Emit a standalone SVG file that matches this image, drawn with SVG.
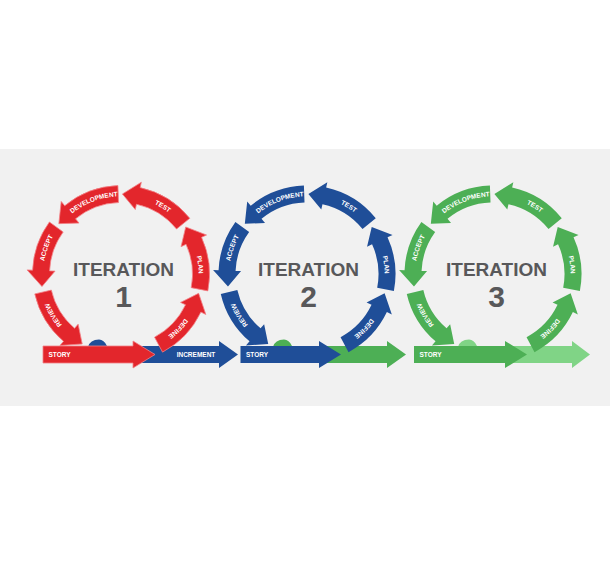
<svg xmlns="http://www.w3.org/2000/svg" xmlns:xlink="http://www.w3.org/1999/xlink" width="610" height="565" viewBox="0 0 610 565">
<style>
.red{fill:#e3262c;stroke:#f38186;stroke-width:0.8}
.blue{fill:#1f4e98}
.green{fill:#4daf55}
.lgreen{fill:#80d486}
.lbl{font-family:"Liberation Sans",Arial,sans-serif;font-weight:bold;font-size:6.5px;fill:#ffffff;stroke:none}
.title{font-family:"Liberation Sans",Arial,sans-serif;font-weight:bold;font-size:19px;fill:#58585a;text-anchor:middle;stroke:none}
.num{font-family:"Liberation Sans",Arial,sans-serif;font-weight:bold;font-size:30px;fill:#58585a;text-anchor:middle;stroke:none}
</style>
<defs>
<path id="a-define" d="M41.55,78.14 A88.5,88.5 0 0 0 79.88,38.10 L84.84,40.47 L77.62,19.35 L59.57,28.41 L64.54,30.78 A71.5,71.5 0 0 1 33.57,63.13 Z"/>
<path id="a-plan" d="M86.88,16.89 A88.5,88.5 0 0 0 80.54,-36.70 L85.54,-38.98 L64.72,-47.02 L60.06,-27.37 L65.07,-29.65 A71.5,71.5 0 0 1 70.19,13.64 Z"/>
<path id="a-test" d="M68.77,-55.69 A88.5,88.5 0 0 0 19.15,-86.40 L20.34,-91.77 L1.40,-79.99 L14.28,-64.44 L15.47,-69.81 A71.5,71.5 0 0 1 55.56,-45.00 Z"/>
<path id="a-dev" d="M-3.09,-88.45 A88.5,88.5 0 0 0 -56.29,-68.29 L-59.79,-72.53 L-62.17,-50.35 L-41.98,-50.93 L-45.48,-55.17 A71.5,71.5 0 0 1 -2.50,-71.46 Z"/>
<path id="a-accept" d="M-71.60,-52.02 A88.5,88.5 0 0 0 -88.42,-3.86 L-93.91,-4.10 L-79.02,12.51 L-65.94,-2.88 L-71.43,-3.12 A71.5,71.5 0 0 1 -57.84,-42.03 Z"/>
<path id="a-review" d="M-86.23,19.91 A88.5,88.5 0 0 0 -57.47,67.30 L-61.04,71.48 L-38.78,69.97 L-42.86,50.19 L-46.43,54.37 A71.5,71.5 0 0 1 -69.67,16.09 Z"/>
<path id="ring" d="M0,77.7 A77.7,77.7 0 1 1 0,-77.7 A77.7,77.7 0 1 1 0,77.7" fill="none"/>
</defs>
<rect x="0" y="0" width="610" height="565" fill="#ffffff"/>
<rect x="0" y="149" width="610" height="257" fill="#f1f1f1"/>

<g id="connectors">
<path class="blue" d="M88,347 Q90,339.5 99,339.5 Q104,339.5 107,346 L219,346 L219,341 L238,354.5 L219,368 L219,363 L88,363 Z"/>
<text class="lbl" x="196" y="357" text-anchor="middle">INCREMENT</text>
<path class="red" d="M43,346 L133,346 L133,341 L155,354.5 L133,368 L133,363 L43,363 Z"/>
<text class="lbl" x="48.5" y="357">STORY</text>
<path class="green" d="M273,347 Q275,339.5 284,339.5 Q289,339.5 292,346 L387,346 L387,341 L406,354.5 L387,368 L387,363 L273,363 Z"/>
<path class="blue" d="M240.5,346 L319,346 L319,341 L341,354.5 L319,368 L319,363 L240.5,363 Z"/>
<text class="lbl" x="246" y="357">STORY</text>
<path class="lgreen" d="M458,347 Q460,339.5 469,339.5 Q474,339.5 477,346 L572,346 L572,341 L590,354.5 L572,368 L572,363 L458,363 Z"/>
<path class="green" d="M414,346 L505,346 L505,341 L527,354.5 L505,368 L505,363 L414,363 Z"/>
<text class="lbl" x="419.5" y="357">STORY</text>
</g>

<g id="iteration1" transform="translate(121,274)">
<g id="it1-review" class="red"><use href="#a-review"/><text class="lbl" text-anchor="middle"><textPath href="#ring" startOffset="16.32%">REVIEW</textPath></text></g>
<g id="it1-accept" class="red"><use href="#a-accept"/><text class="lbl" text-anchor="middle"><textPath href="#ring" startOffset="30.35%">ACCEPT</textPath></text></g>
<g id="it1-development" class="red"><use href="#a-dev"/><text class="lbl" text-anchor="middle"><textPath href="#ring" startOffset="44.24%">DEVELOPMENT</textPath></text></g>
<g id="it1-test" class="red"><use href="#a-test"/><text class="lbl" text-anchor="middle"><textPath href="#ring" startOffset="58.82%">TEST</textPath></text></g>
<g id="it1-plan" class="red"><use href="#a-plan"/><text class="lbl" text-anchor="middle"><textPath href="#ring" startOffset="73.13%">PLAN</textPath></text></g>
<g id="it1-define" class="red"><use href="#a-define"/><text class="lbl" text-anchor="middle"><textPath href="#ring" startOffset="87.15%">DEFINE</textPath></text></g>
<text class="title" x="2.5" y="2">ITERATION</text>
<text class="num" x="2.5" y="33">1</text>
</g>

<g id="iteration2" transform="translate(307,274)">
<g id="it2-review" class="blue"><use href="#a-review"/><text class="lbl" text-anchor="middle"><textPath href="#ring" startOffset="16.32%">REVIEW</textPath></text></g>
<g id="it2-accept" class="blue"><use href="#a-accept"/><text class="lbl" text-anchor="middle"><textPath href="#ring" startOffset="30.35%">ACCEPT</textPath></text></g>
<g id="it2-development" class="blue"><use href="#a-dev"/><text class="lbl" text-anchor="middle"><textPath href="#ring" startOffset="44.24%">DEVELOPMENT</textPath></text></g>
<g id="it2-test" class="blue"><use href="#a-test"/><text class="lbl" text-anchor="middle"><textPath href="#ring" startOffset="58.82%">TEST</textPath></text></g>
<g id="it2-plan" class="blue"><use href="#a-plan"/><text class="lbl" text-anchor="middle"><textPath href="#ring" startOffset="73.13%">PLAN</textPath></text></g>
<g id="it2-define" class="blue"><use href="#a-define"/><text class="lbl" text-anchor="middle"><textPath href="#ring" startOffset="87.15%">DEFINE</textPath></text></g>
<text class="title" x="1.5" y="2">ITERATION</text>
<text class="num" x="1.5" y="33">2</text>
</g>

<g id="iteration3" transform="translate(493,274)">
<g id="it3-review" class="green"><use href="#a-review"/><text class="lbl" text-anchor="middle"><textPath href="#ring" startOffset="16.32%">REVIEW</textPath></text></g>
<g id="it3-accept" class="green"><use href="#a-accept"/><text class="lbl" text-anchor="middle"><textPath href="#ring" startOffset="30.35%">ACCEPT</textPath></text></g>
<g id="it3-development" class="green"><use href="#a-dev"/><text class="lbl" text-anchor="middle"><textPath href="#ring" startOffset="44.24%">DEVELOPMENT</textPath></text></g>
<g id="it3-test" class="green"><use href="#a-test"/><text class="lbl" text-anchor="middle"><textPath href="#ring" startOffset="58.82%">TEST</textPath></text></g>
<g id="it3-plan" class="green"><use href="#a-plan"/><text class="lbl" text-anchor="middle"><textPath href="#ring" startOffset="73.13%">PLAN</textPath></text></g>
<g id="it3-define" class="green"><use href="#a-define"/><text class="lbl" text-anchor="middle"><textPath href="#ring" startOffset="87.15%">DEFINE</textPath></text></g>
<text class="title" x="3.5" y="2">ITERATION</text>
<text class="num" x="3.5" y="33">3</text>
</g>
</svg>
